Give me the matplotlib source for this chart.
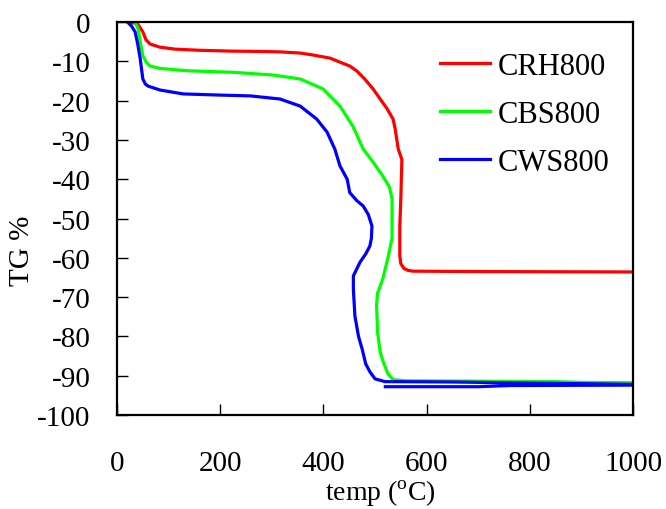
import numpy as np
import matplotlib
matplotlib.use('Agg')
from matplotlib import pyplot as plt

plt.rcParams['font.family'] = 'Liberation Serif'
plt.rcParams['mathtext.fontset'] = 'custom'
plt.rcParams['mathtext.rm'] = 'Liberation Serif'
plt.rcParams['axes.unicode_minus'] = False

# CRH800
temp_crh = [25, 40, 50, 56, 64, 83, 112, 160, 219, 280, 316, 355, 380, 413, 426, 451,
            465, 480, 496, 510, 523, 535, 539, 545, 552, 551, 550, 548, 548, 550, 556,
            564, 574, 700, 1000]
tg_crh = [0, -0.5, -2.5, -4.5, -5.6, -6.4, -6.9, -7.2, -7.4, -7.5, -7.6, -7.9, -8.4,
          -9.2, -9.9, -11.2, -12.5, -14.5, -17.0, -19.6, -22.0, -24.7, -27.2, -32.3,
          -35.0, -40.0, -45.0, -52.0, -59.5, -61.5, -62.7, -63.2, -63.4, -63.5, -63.6]

# CBS800
temp_cbs = [35, 41, 45, 50, 57, 64, 83, 135, 225, 303, 355, 399, 432, 457, 477, 496,
            515, 528, 533, 533, 525, 515, 505, 503, 505, 510, 516, 525, 535, 560, 700,
            850, 900, 1000]
tg_cbs = [0, -1.8, -5.0, -8.6, -10.3, -11.2, -11.8, -12.4, -12.8, -13.5, -14.5, -17.0,
          -21.4, -26.5, -32.3, -35.6, -39.2, -42.0, -45.0, -55.0, -60.0, -65.4, -69.0,
          -72.0, -79.0, -84.0, -86.5, -89.5, -91.0, -91.3, -91.4, -91.5, -91.7, -91.8]

# CWS800 (trace returns at the end: cooling segment)
temp_cws = [20, 28, 35, 40, 45, 50, 55, 60, 83, 128, 200, 258, 316, 355, 387, 407, 422,
            432, 446, 451, 465, 477, 487, 494, 493, 490, 482, 471, 458, 458, 461, 468,
            475, 482, 490, 500, 519, 650, 760, 1000, 1000, 760, 700, 520]
tg_cws = [0, -1.0, -2.5, -5.5, -9.4, -14.5, -15.8, -16.3, -17.3, -18.3, -18.6, -18.8,
          -19.6, -21.4, -24.7, -28.0, -32.3, -36.6, -40.0, -43.4, -45.5, -46.8, -49.0,
          -51.9, -55.0, -57.0, -59.0, -61.1, -64.6, -68.0, -74.8, -80.0, -83.2, -87.0,
          -89.0, -90.8, -91.5, -91.6, -91.8, -92.2, -92.4, -92.5, -92.8, -92.8]

xticks = [0, 200, 400, 600, 800, 1000]
yticks = list(range(-100, 1, 10))

fig = plt.figure(figsize=(6.66, 5.10), dpi=100)
ax = fig.add_axes([0.1757, 0.1843, 0.7748, 0.7706])

ax.plot(temp_crh, tg_crh, color='#ff0000', lw=2.3, label='CRH800')
ax.plot(temp_cbs, tg_cbs, color='#00ff00', lw=2.3, label='CBS800')
ax.plot(temp_cws, tg_cws, color='#0000ff', lw=2.3, label='CWS800')

ax.set_xlim(0, 1000)
ax.set_ylim(-100, 0)
ax.set_xticks(xticks)
ax.set_yticks(yticks)
ax.tick_params(axis='both', direction='in', length=8, width=1, color='black')
ax.tick_params(axis='x', labelsize=21, pad=25)
ax.tick_params(axis='y', labelsize=21, pad=19)
for sp in ax.spines.values():
    sp.set_linewidth(1.6)

ax.set_xlabel('temp ($^{\\rm o}$C)', fontsize=20)
ax.xaxis.set_label_coords(0.51, -0.16)
ax.set_ylabel('TG %', fontsize=21)
ax.yaxis.set_label_coords(-0.158, 0.42)

ax.legend(loc='upper left', bbox_to_anchor=(0.602, 0.955), frameon=False, fontsize=22,
          handlelength=1.65, handletextpad=0.25, labelspacing=0.62, borderaxespad=0)

plt.savefig('out.png', dpi=100)
plt.close()
